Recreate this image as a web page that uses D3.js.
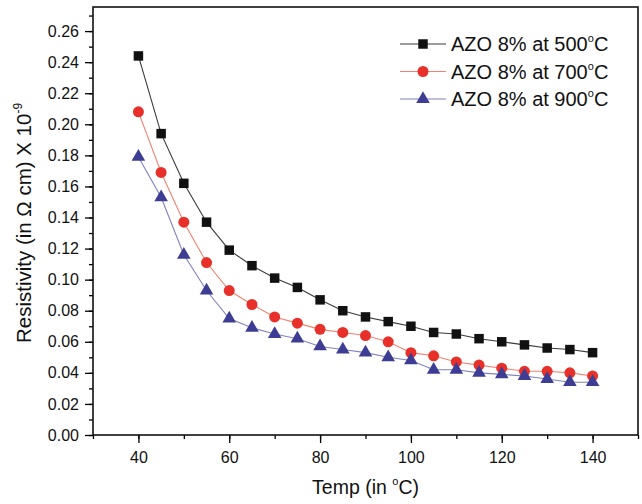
<!DOCTYPE html>
<html>
<head>
<meta charset="utf-8">
<script src="https://cdn.jsdelivr.net/npm/d3@7"></script>
<style>
  body { margin: 0; background: #fff; }
  svg { font-family: "Liberation Sans", Arial, sans-serif; }
</style>
</head>
<body>
<div id="chart"></div>
<script>
// temperatures (deg C)
const temps = [40, 45, 50, 55, 60, 65, 70, 75, 80, 85, 90, 95, 100, 105, 110, 115, 120, 125, 130, 135, 140];

// resistivity (in ohm cm) x 10^-9
const azo500 = [0.244, 0.194, 0.162, 0.137, 0.119, 0.109, 0.101, 0.095, 0.087, 0.080, 0.076, 0.073, 0.070,
                0.066, 0.065, 0.062, 0.060, 0.058, 0.056, 0.055, 0.053];
const azo700 = [0.208, 0.169, 0.137, 0.111, 0.093, 0.084, 0.076, 0.072, 0.068, 0.066, 0.064, 0.060, 0.053,
                0.051, 0.047, 0.045, 0.043, 0.041, 0.041, 0.040, 0.038];
const azo900 = [0.179, 0.153, 0.116, 0.093, 0.075, 0.069, 0.065, 0.062, 0.057, 0.055, 0.053, 0.050, 0.048,
                0.042, 0.042, 0.040, 0.039, 0.038, 0.036, 0.034, 0.034];

const seriesNames = ['AZO 8% at 500', 'AZO 8% at 700', 'AZO 8% at 900'];

const xTicks = [40, 60, 80, 100, 120, 140];
const yTicks = d3.range(0, 0.27, 0.02);

const width = 642, height = 504;
const margin = { top: 7, right: 4, bottom: 69, left: 93 };

const series = [
    { name: seriesNames[0], values: azo500, symbol: d3.symbolSquare, size: 90, fill: '#111', line: '#3a3a3a' },
    { name: seriesNames[1], values: azo700, symbol: d3.symbolCircle, size: 95, fill: '#e8302a', line: '#f4806f' },
    { name: seriesNames[2], values: azo900, symbol: d3.symbolTriangle, size: 80, fill: '#3d3d94', line: '#8080c4' }
];

const svg = d3.select('#chart').append('svg')
    .attr('width', width)
    .attr('height', height);

const x = d3.scaleLinear().domain([30, 150]).range([margin.left, width - margin.right]);
const y = d3.scaleLinear().domain([0, 0.2755]).range([height - margin.bottom, margin.top]);

// minor ticks
svg.append('g')
    .attr('transform', `translate(0,${height - margin.bottom})`)
    .call(d3.axisBottom(x).tickValues(d3.range(30, 151, 10)).tickSize(4).tickFormat(''))
    .call(g => g.select('.domain').remove())
    .selectAll('line').attr('stroke-width', 1.3);

svg.append('g')
    .attr('transform', `translate(${margin.left},0)`)
    .call(d3.axisLeft(y).tickValues(d3.range(0, 0.275, 0.01)).tickSize(4).tickFormat(''))
    .call(g => g.select('.domain').remove())
    .selectAll('line').attr('stroke-width', 1.3);

// major ticks + labels
const xAxis = svg.append('g')
    .attr('transform', `translate(0,${height - margin.bottom})`)
    .call(d3.axisBottom(x).tickValues(xTicks).tickSize(8).tickPadding(9).tickFormat(d3.format('d')));
xAxis.select('.domain').remove();
xAxis.selectAll('line').attr('stroke-width', 1.3);
xAxis.selectAll('text').attr('font-size', 16).attr('fill', '#111').attr('font-family', null);

const yAxis = svg.append('g')
    .attr('transform', `translate(${margin.left},0)`)
    .call(d3.axisLeft(y).tickValues(yTicks).tickSize(8).tickPadding(6).tickFormat(d3.format('.2f')));
yAxis.select('.domain').remove();
yAxis.selectAll('line').attr('stroke-width', 1.3);
yAxis.selectAll('text').attr('font-size', 16).attr('fill', '#111').attr('font-family', null);

// frame
svg.append('rect')
    .attr('x', margin.left)
    .attr('y', margin.top)
    .attr('width', width - margin.left - margin.right)
    .attr('height', height - margin.top - margin.bottom)
    .attr('fill', 'none')
    .attr('stroke', '#111')
    .attr('stroke-width', 1.6);

// lines and markers
const line = d3.line().x((d, i) => x(temps[i])).y(d => y(d));

series.forEach(s => {
    svg.append('path')
        .datum(s.values)
        .attr('d', line)
        .attr('fill', 'none')
        .attr('stroke', s.line)
        .attr('stroke-width', 1.1);

    svg.append('g').selectAll('path')
        .data(s.values)
        .enter()
        .append('path')
            .attr('transform', (d, i) => `translate(${x(temps[i])},${y(d)})`)
            .attr('d', d3.symbol().type(s.symbol).size(s.size))
            .attr('fill', s.fill);
});

// legend
const legend = svg.append('g').attr('transform', 'translate(400,44)');
series.forEach((s, i) => {
    const row = legend.append('g').attr('transform', `translate(0,${i * 27.5})`);
    row.append('line')
        .attr('x1', 0).attr('x2', 46)
        .attr('stroke', s.line)
        .attr('stroke-width', 1.1);
    row.append('path')
        .attr('transform', 'translate(23,0)')
        .attr('d', d3.symbol().type(s.symbol).size(s.size))
        .attr('fill', s.fill);
    const t = row.append('text')
        .attr('x', 51)
        .attr('y', 7)
        .attr('font-size', 20)
        .attr('fill', '#111');
    t.append('tspan').text(s.name);
    t.append('tspan').attr('font-size', 11).attr('dy', -9).text('o');
    t.append('tspan').attr('dy', 9).text('C');
});

// axis titles
const xTitle = svg.append('text')
    .attr('x', (margin.left + width - margin.right) / 2)
    .attr('y', 494)
    .attr('text-anchor', 'middle')
    .attr('font-size', 19.5)
    .attr('fill', '#111');
xTitle.append('tspan').text('Temp (in ');
xTitle.append('tspan').attr('font-size', 11).attr('dy', -9).text('o');
xTitle.append('tspan').attr('dy', 9).text('C)');

const yTitle = svg.append('text')
    .attr('transform', `translate(31,${(margin.top + height - margin.bottom) / 2 + 2}) rotate(-90)`)
    .attr('text-anchor', 'middle')
    .attr('font-size', 20.5)
    .attr('fill', '#111');
yTitle.append('tspan').text('Resistivity (in \u03A9 cm) X 10');
yTitle.append('tspan').attr('font-size', 12).attr('dy', -9).text('-9');
</script>
</body>
</html>
